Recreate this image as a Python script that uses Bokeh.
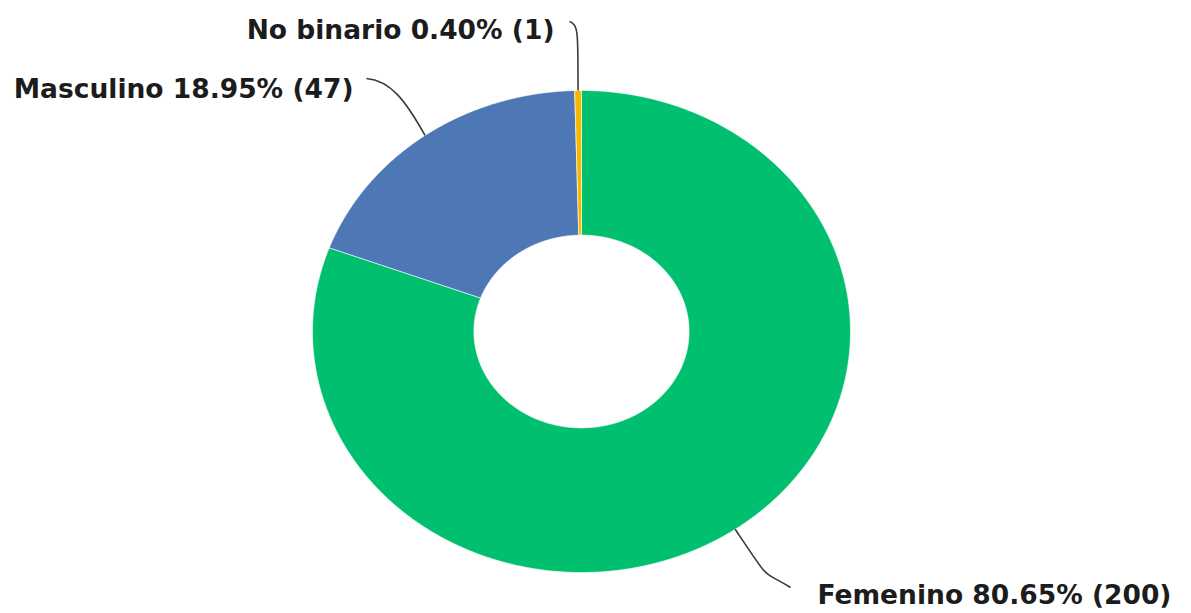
import numpy as np
from bokeh.plotting import figure
from bokeh.models import Range1d
from bokeh.core.properties import value
from bokeh.embed import file_html
from bokeh.resources import INLINE

# ---- data ----
categories = ["Femenino", "Masculino", "No binario"]
counts = [200, 47, 1]
percents = [80.65, 18.95, 0.40]
colors = ["#00BF6F", "#4E78B5", "#F5B800"]

# ---- layout (pixel geometry of the page) ----
W, H = 1191, 613
CX, CY = 581, 331                   # centre in figure pixels
RX, RY = 269.0, 241.0               # pixels per data unit (x / y)
R_OUT, R_IN = 1.0, 0.40

def X(px):  # figure px -> data
    return (px - CX) / RX

def Y(py):
    return (CY - py) / RY

p = figure(width=W, height=H, output_backend="svg", toolbar_location=None,
           x_range=Range1d(X(0), X(W)), y_range=Range1d(Y(H), Y(0)),
           min_border=0)
p.axis.visible = False
p.grid.visible = False
p.outline_line_color = None
p.background_fill_color = "white"

# slices clockwise from the top
total = sum(counts)
start = np.pi / 2
mids = []
xs_list, ys_list = [], []
for c in counts:
    sweep = 2 * np.pi * c / total
    end = start - sweep
    t = np.linspace(start, end, max(int(abs(sweep) * 120), 4))
    xo = R_OUT * np.cos(t)
    yo = R_OUT * np.sin(t)
    xi = R_IN * np.cos(t[::-1])
    yi = R_IN * np.sin(t[::-1])
    xs_list.append(list(np.concatenate([xo, xi])))
    ys_list.append(list(np.concatenate([yo, yi])))
    mids.append((start + end) / 2)
    start = end

p.patches(xs_list, ys_list, fill_color=colors, line_color="white", line_width=0.6)

# labels: (label end px, control offsets px, text anchor px, align)
label_layout = {
    "Femenino":  dict(end=(790, 587), c0=(760, 568), c1=(773, 586),
                      txt=(817, 594), align="left"),
    "Masculino": dict(end=(366, 78), c0=(390, 80), c1=(405, 100),
                      txt=(353, 88), align="right"),
    "No binario": dict(end=(569, 21), c0=(579, 24), c1=(577, 36),
                       txt=(554, 29), align="right"),
}

for cat, cnt, pct, m in zip(categories, counts, percents, mids):
    L = label_layout[cat]
    ax, ay = R_OUT * np.cos(m), R_OUT * np.sin(m)
    p.bezier(x0=[ax], y0=[ay], x1=[X(L["end"][0])], y1=[Y(L["end"][1])],
             cx0=[X(L["c1"][0])], cy0=[Y(L["c1"][1])],
             cx1=[X(L["c0"][0])], cy1=[Y(L["c0"][1])],
             line_color="#3a3a3a", line_width=1.6)
    p.text(x=[X(L["txt"][0])], y=[Y(L["txt"][1])],
           text=[f"{cat} {pct:.2f}% ({cnt})"],
           text_align=L["align"], text_baseline="middle",
           text_font=value("DejaVu Sans"), text_font_style="bold",
           text_font_size="26.5px", text_color="#1c1c1c")

open("out.html", "w").write(file_html(p, INLINE))
